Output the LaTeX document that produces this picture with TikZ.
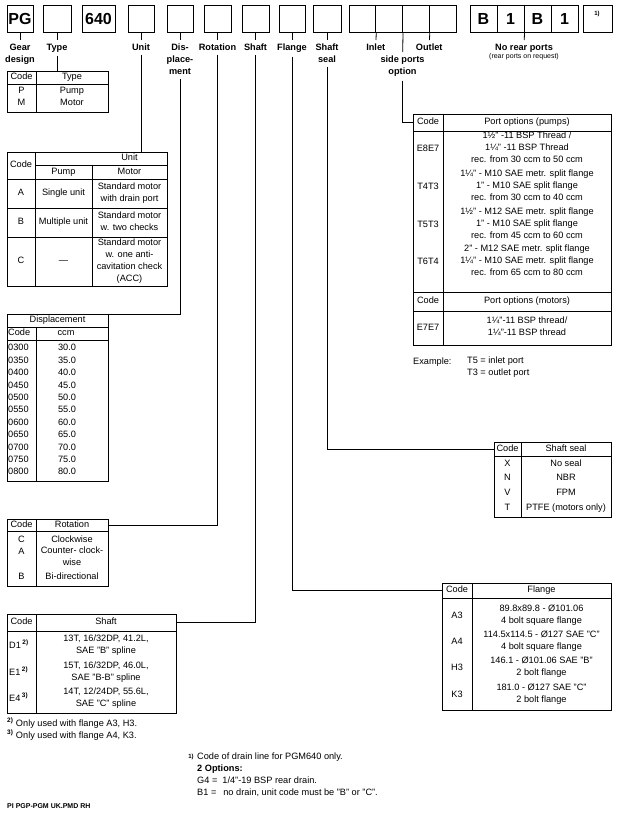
\documentclass[tikz,border=0pt]{standalone}
\usepackage{fontspec}
\setmainfont{Liberation Sans}
\usetikzlibrary{positioning}
\usetikzlibrary{calc}

\tikzset{
  codebox/.style={draw,line width=1pt,minimum height=27pt,inner sep=0pt,font=\fontsize{16}{16}\selectfont\bfseries},
  lbl/.style={inner sep=0pt,outer sep=4pt,anchor=north,align=center,font=\fontsize{9.2}{12}\selectfont\bfseries},
  tab/.style={draw,line width=0.9pt,inner sep=0pt,anchor=north west},
  cell/.style={inner sep=0pt,align=center,font=\fontsize{9.2}{12}\selectfont,execute at begin node=\strut,execute at end node=\strut},
  rule/.style={line width=0.7pt},
  conn/.style={line width=0.8pt},
  smalltxt/.style={inner sep=0pt,font=\fontsize{6}{6}\selectfont\bfseries},
}

\begin{document}
\begin{tikzpicture}[x=1pt,y=-1pt]
\useasboundingbox (0,0) rectangle (621,814);

% ordering code boxes
\node[codebox,minimum width=26pt](pg) at (20,18.5){PG};
\node[codebox,minimum width=28pt](type) at (57,18.5){};
\node[codebox,minimum width=33pt](size) at (98.5,18.5){640};
\node[codebox,minimum width=26pt](unit) at (141,18.5){};
\node[codebox,minimum width=26pt](displ) at (180,18.5){};
\node[codebox,minimum width=27pt](rot) at (217.5,18.5){};
\node[codebox,minimum width=27pt](shaft) at (255.5,18.5){};
\node[codebox,minimum width=26pt](flange) at (292,18.5){};
\node[codebox,minimum width=28pt](seal) at (327,18.5){};
\node[codebox,minimum width=26.75pt](in1) at (362.375,18.5){};
\node[codebox,minimum width=26.75pt](in2) at (389.125,18.5){};
\node[codebox,minimum width=26.75pt](out1) at (415.875,18.5){};
\node[codebox,minimum width=26.75pt](out2) at (442.625,18.5){};
\node[codebox,minimum width=27pt](rear1) at (483.5,18.5){B};
\node[codebox,minimum width=27pt](rear2) at (510.5,18.5){1};
\node[codebox,minimum width=27pt](rear3) at (537.5,18.5){B};
\node[codebox,minimum width=27pt](rear4) at (564.5,18.5){1};
\node[codebox,minimum width=29pt](drain) at (597.5,18.5){};
\node[smalltxt](drainref) at (597,14){1)};

% labels
\node[lbl](gearlbl) at (20,40){Gear\\design};
\node[lbl](typelbl) at (57,40){Type};
\node[lbl](unitlbl) at (141,40){Unit};
\node[lbl](displbl) at (180,40){Dis-\\place-\\ment};
\node[lbl](rotlbl) at (217.5,40){Rotation};
\node[lbl](shaftlbl) at (255.5,40){Shaft};
\node[lbl](flangelbl) at (292,40){Flange};
\node[lbl](seallbl) at (327,40){Shaft\\seal};
\node[lbl](inletlbl) at (375.75,40){Inlet};
\node[lbl](outletlbl) at (429.25,40){Outlet};
\node[lbl](sidelbl) at (402.5,52){side ports\\option};
\node[lbl](rearlbl) at (524,40){No rear ports};
\node[smalltxt,font=\fontsize{7}{7}\selectfont](rearnote) at (524,56.5){(rear ports on request)};

\path[conn]
(pg) edge (gearlbl)
(type) edge (typelbl)
(unit) edge (unitlbl)
(displ) edge (displbl)
(rot) edge (rotlbl)
(shaft) edge (shaftlbl)
(flange) edge (flangelbl)
(seal) edge (seallbl)
(in1.south east) edge (inletlbl)
(in2.south east) edge (sidelbl)
(out1.south east) edge (outletlbl)
(rear2.south east) edge (rearlbl);

% type
\node[tab,minimum width=101pt,minimum height=41pt](typetab) at (7,71){};
\draw[rule] (7,84) -- (108,84) (36,71) -- (36,112);
\node[cell](tc) at (21.5,77.5){Code};
\node[cell](th) at (72,77.5){Type};
\node[cell](tp) at (21.5,91){P};
\node[cell](tpn) at (72,91){Pump};
\node[cell](tm) at (21.5,103){M};
\node[cell](tmn) at (72,103){Motor};

% unit
\node[tab,minimum width=160pt,minimum height=134pt](unittab) at (7,152){};
\draw[rule] (35,165) -- (167,165) (7,179) -- (167,179) (7,208) -- (167,208)
  (7,237) -- (167,237) (35,152) -- (35,286) (92,165) -- (92,286);
\node[cell](uc) at (21,165.5){Code};
\node[cell](uh) at (129.5,158.5){Unit};
\node[cell](up) at (63.5,172){Pump};
\node[cell](um) at (129.5,172){Motor};
\node[cell](ua) at (21,193.5){A};
\node[cell](uap) at (63.5,193.5){Single unit};
\node[cell](uam) at (129.5,193.5){Standard motor\\with drain port};
\node[cell](ub) at (21,222.5){B};
\node[cell](ubp) at (63.5,222.5){Multiple unit};
\node[cell](ubm) at (129.5,222.5){Standard motor\\w. two checks};
\node[cell](ucc) at (21,261.5){C};
\node[cell](ucp) at (63.5,261.5){—};
\node[cell](ucm) at (129.5,261.5){Standard motor\\w. one anti-\\cavitation check\\(ACC)};

% displacement
\node[tab,minimum width=101pt,minimum height=167pt](disptab) at (7,314){};
\draw[rule] (7,327) -- (108,327) (7,340) -- (108,340) (36,327) -- (36,481);
\node[cell](dh) at (57.5,320.5){Displacement};
\node[cell,anchor=west](dc) at (8,333.5){Code};
\node[cell](dv) at (66,333.5){ccm};
\foreach \c/\v [count=\i from 0] in {0300/30.0,0350/35.0,0400/40.0,0450/45.0,0500/50.0,0550/55.0,0600/60.0,0650/65.0,0700/70.0,0750/75.0,0800/80.0}{
  \node[cell,anchor=west](dc\i) at (8,{348.5+12.4*\i}){\c};
  \node[cell](dv\i) at (67,{348.5+12.4*\i}){\v};
}

% rotation
\node[tab,minimum width=101pt,minimum height=67pt](rottab) at (7,519){};
\draw[rule] (7,531) -- (108,531) (36,519) -- (36,586);
\node[cell](rc) at (21.5,525){Code};
\node[cell](rothd) at (72,525){Rotation};
\node[cell](rcc) at (21.5,540){C};
\node[cell](rcn) at (72,540){Clockwise};
\node[cell](ra) at (21.5,552){A};
\node[cell](ran) at (72,558){Counter- clock-\\wise};
\node[cell](rb) at (21.5,577){B};
\node[cell](rbn) at (72,577){Bi-directional};

% shaft
\node[tab,minimum width=169pt,minimum height=99pt](shafttab) at (7,614){};
\draw[rule] (7,631) -- (176,631) (36,614) -- (36,713);
\node[cell](sc) at (21.5,622){Code};
\node[cell](shafthd) at (106,622){Shaft};
\node[cell,anchor=west](sd1) at (9,646){D1\,\textsuperscript{\bfseries 2)}};
\node[cell](sd1n) at (106,646){13T, 16/32DP, 41.2L,\\SAE "B" spline};
\node[cell,anchor=west](se1) at (9,673){E1\,\textsuperscript{\bfseries 2)}};
\node[cell](se1n) at (106,673){15T, 16/32DP, 46.0L,\\SAE "B-B" spline};
\node[cell,anchor=west](se4) at (9,699){E4\,\textsuperscript{\bfseries 3)}};
\node[cell](se4n) at (106,699){14T, 12/24DP, 55.6L,\\SAE "C" spline};
\node[cell,anchor=west](fn2) at (7,724){\textsuperscript{\bfseries 2)} Only used with flange A3, H3.};
\node[cell,anchor=west](fn3) at (7,736){\textsuperscript{\bfseries 3)} Only used with flange A4, K3.};

% port options
\node[tab,minimum width=198pt,minimum height=231pt](porttab) at (413,114){};
\draw[rule] (413,131) -- (611,131) (413,292) -- (611,292) (413,311) -- (611,311) (443,114) -- (443,345);
\node[cell](pc) at (428,122.5){Code};
\node[cell](porthd) at (527,122.5){Port options (pumps)};
\node[cell](p1) at (428,149){E8E7};
\node[cell](p1n) at (527,149){1½" -11 BSP Thread /\\1¼" -11 BSP Thread\\rec. from 30 ccm to 50 ccm};
\node[cell](p2) at (428,187){T4T3};
\node[cell](p2n) at (527,187){1¼" - M10 SAE metr. split flange\\1" - M10 SAE split flange\\rec. from 30 ccm to 40 ccm};
\node[cell](p3) at (428,225){T5T3};
\node[cell](p3n) at (527,225){1½" - M12 SAE metr. split flange\\1" - M10 SAE split flange\\rec. from 45 ccm to 60 ccm};
\node[cell](p4) at (428,262){T6T4};
\node[cell](p4n) at (527,262){2" - M12 SAE metr. split flange\\1¼" - M10 SAE metr. split flange\\rec. from 65 ccm to 80 ccm};
\node[cell](mc) at (428,301.5){Code};
\node[cell](mhd) at (527,301.5){Port options (motors)};
\node[cell](m1) at (428,328){E7E7};
\node[cell](m1n) at (527,328){1¼"-11 BSP thread/\\1¼"-11 BSP thread};
\node[cell,anchor=west](exlbl) at (413,362){Example:};
\node[cell,anchor=west,align=left](exnote) at (467,368){T5 = inlet port\\T3 = outlet port};

% shaft seal
\node[tab,minimum width=117pt,minimum height=75pt](sealtab) at (494,442){};
\draw[rule] (494,456) -- (611,456) (521,442) -- (521,517);
\node[cell](kc) at (507.5,449){Code};
\node[cell](sealhd) at (566,449){Shaft seal};
\node[cell](kx) at (507.5,464){X};
\node[cell](kxn) at (566,464){No seal};
\node[cell](kn) at (507.5,478.5){N};
\node[cell](knn) at (566,478.5){NBR};
\node[cell](kv) at (507.5,493){V};
\node[cell](kvn) at (566,493){FPM};
\node[cell](kt) at (507.5,508){T};
\node[cell](ktn) at (566,508){PTFE (motors only)};

% flange
\node[tab,minimum width=169pt,minimum height=127pt](flangetab) at (442,583){};
\draw[rule] (442,598) -- (611,598) (472,583) -- (472,710);
\node[cell](fc) at (457,590.5){Code};
\node[cell](flangehd) at (541.5,590.5){Flange};
\node[cell](fa3) at (457,616){A3};
\node[cell](fa3n) at (541.5,616){89.8x89.8 - Ø101.06\\4 bolt square flange};
\node[cell](fa4) at (457,642){A4};
\node[cell](fa4n) at (541.5,642){114.5x114.5 - Ø127 SAE "C"\\4 bolt square flange};
\node[cell](fh3) at (457,668){H3};
\node[cell](fh3n) at (541.5,668){146.1 - Ø101.06 SAE "B"\\2 bolt flange};
\node[cell](fk3) at (457,695){K3};
\node[cell](fk3n) at (541.5,695){181.0 - Ø127 SAE "C"\\2 bolt flange};

% connectors to tables
\draw[conn] (typelbl) -- (typelbl |- typetab.north);
\draw[conn] (unitlbl) -- (unitlbl |- unittab.north);
\draw[conn] (displbl) |- (disptab.north east);
\draw[conn] (rotlbl) |- (rottab.east |- rothd);
\draw[conn] (shaftlbl) |- (shafttab.east |- shafthd);
\draw[conn] (flangelbl) |- (flangetab.west |- flangehd);
\draw[conn] (seallbl) |- (sealtab.west |- sealhd);
\draw[conn] (sidelbl) |- (porttab.west |- porthd);

% drain note
\node[smalltxt](noteref) at (191,757){1)};
\node[cell,anchor=north west,align=left](note) at (197,753){Code of drain line for PGM640 only.\\\textbf{2 Options:}\\G4 =\hspace{5pt}1/4"-19 BSP rear drain.\\B1 =\hspace{7pt}no drain, unit code must be "B" or "C".};
\node[smalltxt,anchor=west,font=\fontsize{7}{7}\selectfont\bfseries](footer) at (7,806){PI PGP-PGM UK.PMD RH};
\end{tikzpicture}
\end{document}
